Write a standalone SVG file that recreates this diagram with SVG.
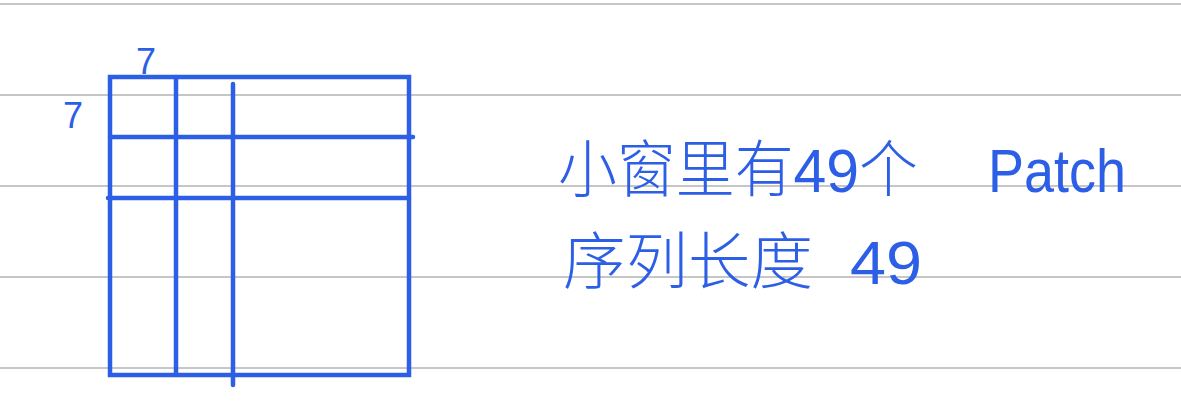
<svg xmlns="http://www.w3.org/2000/svg" width="1181" height="407" viewBox="0 0 1181 407">
<style>
.rule{stroke:#c6c6c6;stroke-width:2}
.ink{stroke:#2d5fe6;stroke-width:4.5;stroke-linecap:round;fill:none}
.txt{fill:#2d5fe6;font-family:"Liberation Sans","Noto Sans CJK SC",sans-serif;font-weight:300}
</style>
<rect width="1181" height="407" fill="#ffffff"/>
<g id="rules">
<line class="rule" x1="0" y1="4" x2="1181" y2="4"/>
<line class="rule" x1="0" y1="95" x2="1181" y2="95"/>
<line class="rule" x1="0" y1="186" x2="1181" y2="186"/>
<line class="rule" x1="0" y1="277" x2="1181" y2="277"/>
<line class="rule" x1="0" y1="368" x2="1181" y2="368"/>
</g>
<g id="grid">
<rect class="ink" x="110" y="77" width="299" height="298"/>
<line class="ink" x1="176" y1="77" x2="176" y2="375"/>
<line class="ink" x1="233" y1="84" x2="233" y2="385"/>
<line class="ink" x1="110" y1="137" x2="413" y2="137"/>
<line class="ink" x1="108" y1="198" x2="409" y2="198"/>
</g>
<g id="labels">
<text class="txt" x="136" y="74" font-size="36">7</text>
<text class="txt" x="63" y="128" font-size="36">7</text>
</g>
<g id="note">
<text class="txt" y="192" font-size="62"><tspan x="558" textLength="360" lengthAdjust="spacingAndGlyphs">小窗里有49个</tspan><tspan x="988" textLength="138" lengthAdjust="spacingAndGlyphs">Patch</tspan></text>
<text class="txt" y="284" font-size="62"><tspan x="563" textLength="250" lengthAdjust="spacingAndGlyphs">序列长度</tspan><tspan x="850" textLength="72" lengthAdjust="spacingAndGlyphs">49</tspan></text>
</g>
</svg>
